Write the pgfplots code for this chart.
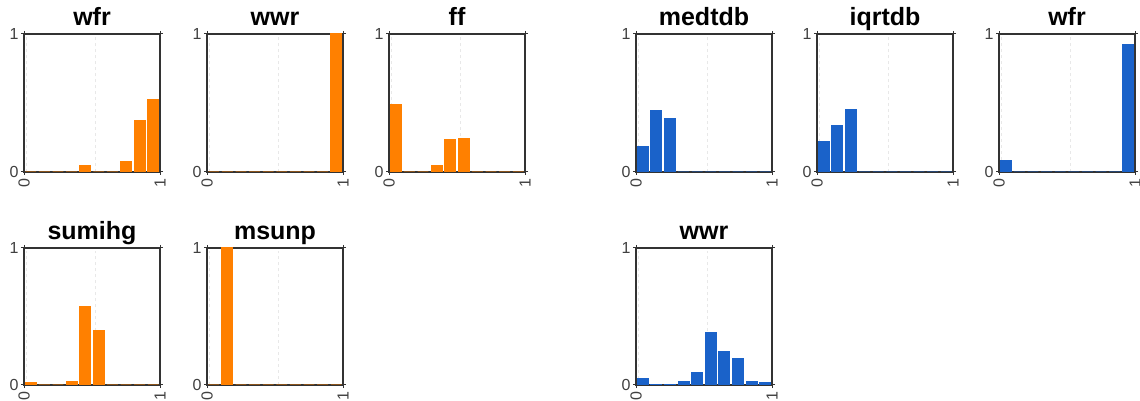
\documentclass[border=0pt]{standalone}
\usepackage{pgfplots}
\pgfplotsset{compat=1.18}
\usepackage{fontspec}
\setmainfont{Liberation Sans}
\definecolor{org}{HTML}{FF8000}
\definecolor{blu}{HTML}{1A62C9}
\pgfplotsset{hist/.style={
  scale only axis, width=136bp, anchor=south west,
  set layers=standard,
  xmin=0,xmax=1,ymin=0,ymax=1,
  xtick={0,1}, ytick={0,1},
  tick align=outside, major tick length=3bp,
  tick style={black!80, line width=1bp},
  axis line style={black!80, line width=1.5bp},
  /pgf/number format/assume math mode=true,
  xticklabel style={rotate=90, anchor=east, font=\fontsize{16bp}{16bp}\selectfont, text=black!75},
  yticklabel style={font=\fontsize{16bp}{16bp}\selectfont, text=black!75, xshift=1bp},
  extra x ticks={0.02,0.525}, extra x tick labels={,},
  extra x tick style={grid=major, major grid style={black!9, dashed, line width=0.6bp}, major tick length=0pt},
  every axis title/.style={at={(0.5,1)}, anchor=base, yshift=8bp, font=\fontsize{25bp}{25bp}\selectfont\bfseries},
}}
\newcommand\hist[6]{%
\begin{axis}[hist, at={(#1bp,#2bp)}, height=#3bp, title={#4}]
\addplot[ybar, bar width=0.08, fill=#5, draw=#5, line width=1bp, on layer=axis foreground] coordinates {#6};
\end{axis}}
\begin{document}
\begin{tikzpicture}
\hist{24}{229}{138}{wfr}{org}{(0.05,0) (0.15,0) (0.25,0) (0.35,0) (0.45,0.044) (0.55,0) (0.65,0) (0.75,0.077) (0.85,0.373) (0.95,0.523)}
\hist{207}{229}{138}{wwr}{org}{(0.05,0) (0.15,0) (0.25,0) (0.35,0) (0.45,0) (0.55,0) (0.65,0) (0.75,0) (0.85,0) (0.95,1.0)}
\hist{389}{229}{138}{ff}{org}{(0.05,0.49) (0.15,0) (0.25,0) (0.35,0.046) (0.45,0.232) (0.55,0.245) (0.65,0) (0.75,0) (0.85,0) (0.95,0)}
\hist{24}{16}{137}{sumihg}{org}{(0.05,0.015) (0.15,0) (0.25,0) (0.35,0.022) (0.45,0.570) (0.55,0.40) (0.65,0) (0.75,0) (0.85,0) (0.95,0)}
\hist{207}{16}{137}{msunp}{org}{(0.05,0) (0.15,1.0) (0.25,0) (0.35,0) (0.45,0) (0.55,0) (0.65,0) (0.75,0) (0.85,0) (0.95,0)}
\hist{636}{229}{138}{medtdb}{blu}{(0.05,0.186) (0.15,0.443) (0.25,0.385) (0.35,0) (0.45,0) (0.55,0) (0.65,0) (0.75,0) (0.85,0) (0.95,0)}
\hist{817}{229}{138}{iqrtdb}{blu}{(0.05,0.223) (0.15,0.334) (0.25,0.455) (0.35,0) (0.45,0) (0.55,0) (0.65,0) (0.75,0) (0.85,0) (0.95,0)}
\hist{999}{229}{138}{wfr}{blu}{(0.05,0.080) (0.15,0) (0.25,0) (0.35,0) (0.45,0) (0.55,0) (0.65,0) (0.75,0) (0.85,0) (0.95,0.925)}
\hist{636}{16}{137}{wwr}{blu}{(0.05,0.051) (0.15,0.005) (0.25,0.005) (0.35,0.022) (0.45,0.092) (0.55,0.381) (0.65,0.243) (0.75,0.192) (0.85,0.022) (0.95,0.015)}
\pgfresetboundingbox
\path[use as bounding box] (0,0) rectangle (1140bp,401bp);
\end{tikzpicture}
\end{document}
